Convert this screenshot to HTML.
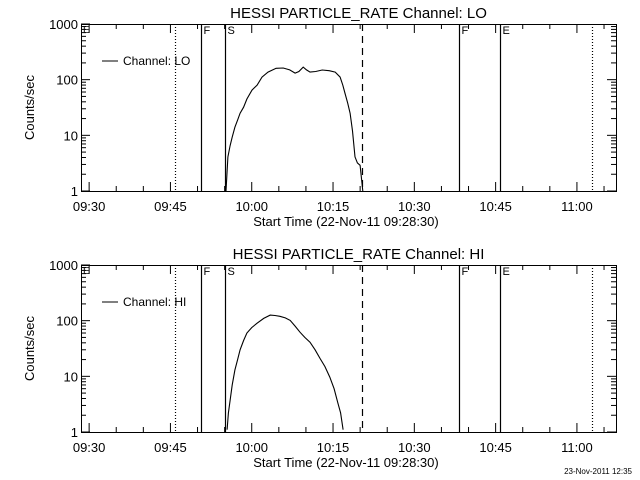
<!DOCTYPE html>
<html><head><meta charset="utf-8"><style>
html,body{margin:0;padding:0;background:#fff;}
svg{display:block;font-family:"Liberation Sans",sans-serif;}
</style></head><body>
<svg id="c" width="640" height="480" viewBox="0 0 640 480">
<rect width="640" height="480" fill="#fff"/>
<text x="632" y="474" font-size="8" text-anchor="end">23-Nov-2011 12:35</text>
</svg>
<script>
// Time in minutes after 09:28:30
const loTimes = [26.75,27.1,27.5,27.9,28.4,28.9,29.35,30.0,30.6,31.55,32.5,33.4,34.5,36.0,37.3,38.5,39.5,40.2,41.0,41.6,42.25,43.3,44.5,45.8,46.9,47.8,48.3,48.7,49.2,49.65,50.1,50.55,51.0,51.5,52.0];
const loValues = [1.0,4.1,6.5,9.3,14,18.8,25,32,45,65,80,111,137,160,162,150,131,140,168,150,137,140,149,145,137,111,80,57,38,25,12,4.1,3.2,2.9,1.0];
const hiTimes = [26.95,27.2,27.5,27.9,28.4,28.9,29.35,30.0,30.6,31.5,32.5,33.7,34.9,35.8,36.7,37.7,38.6,39.5,40.4,41.3,42.25,43.2,44.1,45.0,45.9,46.7,47.4,47.9,48.35];
const hiValues = [1.1,2.2,3.7,7,13,20,30,44,60,75,90,110,126,124,120,112,101,80,62,50,41,30,21,15,9.7,6,3.3,2.2,1.1];
const xTickLabels = ["09:30","09:45","10:00","10:15","10:30","10:45","11:00"];
const xTickMinutes = [1.5,16.5,31.5,46.5,61.5,76.5,91.5];
const yTickLabels = ["1","10","100","1000"];
const yTickValues = [1,10,100,1000];
const markerTimes = [17.3,22.1,26.5,51.8,69.7,77.3,94.3];
const markerStyles = ["dot","solid","solid","dash","solid","solid","dot"];
const markerLabels = ["","F","S","","F","E",""];

const NS="http://www.w3.org/2000/svg";
const svg=document.getElementById('c');
const X0=81,X1=616,PXMIN=5.42;
function xs(t){return X0+t*PXMIN;}
function mk(tag,attrs,parent){const e=document.createElementNS(NS,tag);for(const k in attrs)e.setAttribute(k,attrs[k]);(parent||svg).appendChild(e);return e;}

function panel(top,bottom,title,chan,times,vals,key){
  const g=mk('g',{});
  
  
  const ys=v=>bottom-(Math.log10(v))*(bottom-top)/3;
  const t=mk('text',{x:(X0+X1)/2+10,y:top-6,'font-size':15,'text-anchor':'middle'},g);t.textContent=title;
  
  
  const box=mk('rect',{x:X0+0.5,y:top+0.5,width:X1-X0,height:bottom-top,fill:'none',stroke:'#000','stroke-width':1},g);
  
  
  for(let m=1.5;xs(m)<X1;m+=5){
    const major=((m-1.5)%15===0);const L=major?9:5;
    mk('line',{x1:xs(m),x2:xs(m),y1:bottom,y2:bottom-L,stroke:'#000'},g);
    mk('line',{x1:xs(m),x2:xs(m),y1:top,y2:top+L,stroke:'#000'},g);
  }
  xTickLabels.forEach((l,i)=>{const e=mk('text',{x:xs(xTickMinutes[i]),y:bottom+20,'font-size':13,'text-anchor':'middle'},g);e.textContent=l;
    
    });
  for(let d=0;d<3;d++)for(let k=1;k<10;k++){
    const v=Math.pow(10,d)*k;const y=ys(v);const L=k===1?9:5;
    mk('line',{x1:X0,x2:X0+L,y1:y,y2:y,stroke:'#000'},g);
    mk('line',{x1:X1,x2:X1-L,y1:y,y2:y,stroke:'#000'},g);
  }
  mk('line',{x1:X0,x2:X0+9,y1:top,y2:top,stroke:'#000'},g);
  yTickLabels.forEach((l,i)=>{const e=mk('text',{x:X0-3,y:ys(yTickValues[i])+5,'font-size':13,'text-anchor':'end'},g);e.textContent=l;
    
    });
  const yt=mk('text',{x:0,y:0,'font-size':13,'text-anchor':'middle',transform:`translate(34,${(top+bottom)/2}) rotate(-90)`},g);yt.textContent='Counts/sec';
  
  
  const xt=mk('text',{x:346,y:bottom+35,'font-size':13,'text-anchor':'middle'},g);xt.textContent='Start Time (22-Nov-11 09:28:30)';
  
  
  const e0=mk('text',{x:83,y:top+9,'font-size':10},g);e0.textContent='E';
  markerTimes.forEach((m,i)=>{
    const x=Math.round(xs(m))+0.5;const s=markerStyles[i];
    const ln=mk('line',{x1:x,x2:x,y1:top,y2:bottom,stroke:'#000','stroke-width':1.2,'stroke-dasharray':s==='dot'?'1,2':(s==='dash'?'7,5':'none')},g);
    
    
    if(markerLabels[i]){const tl=mk('text',{x:x+2,y:top+10,'font-size':11},g);tl.textContent=markerLabels[i];}
  });
  mk('line',{x1:102,x2:118,y1:top+37,y2:top+37,stroke:'#000'},g);
  const lt=mk('text',{x:123,y:top+41,'font-size':12},g);lt.textContent='Channel: '+chan;
  
  
  const pts=times.map((tm,i)=>xs(tm).toFixed(1)+','+ys(vals[i]).toFixed(1)).join(' ');
  const pl=mk('polyline',{points:pts,fill:'none',stroke:'#000','stroke-width':1.1},g);
  
  
}
panel(24,191,'HESSI PARTICLE_RATE Channel: LO','LO',loTimes,loValues,'lo');
panel(265,432,'HESSI PARTICLE_RATE Channel: HI','HI',hiTimes,hiValues,'hi');
</script>
</body></html>
